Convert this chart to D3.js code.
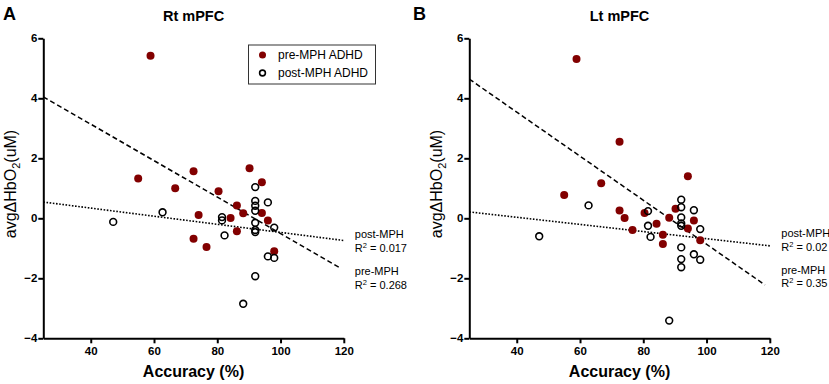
<!DOCTYPE html>
<html>
<head>
<meta charset="utf-8">
<script src="https://cdn.jsdelivr.net/npm/d3@7"></script>
<style>
  body { margin: 0; background: #fff; }
  svg { font-family: Arial, "Liberation Sans", Helvetica, sans-serif; }
  .axis path, .axis line { stroke: #000; stroke-width: 2; }
  .axis text { font-size: 11.5px; font-weight: bold; fill: #000; }
</style>
</head>
<body>
<div id="chart"></div>
<script>
const xTicks = [40, 60, 80, 100, 120];
const yTicks = [-4, -2, 0, 2, 4, 6];

// pre-MPH (filled), same accuracy for both channels
const preAccuracy = [55, 58.9, 66.7, 72.5, 72.5, 74.1, 76.6, 80.4, 84.2, 86.2, 86.2, 88.2, 90.2, 94.1, 94.1, 96, 98];
const preRt = [1.33, 5.42, 1.0, 1.57, -0.68, 0.11, -0.96, 0.9, 0.01, 0.43, -0.43, 0.17, 1.67, 1.2, 0.18, -0.07, -1.1];
const preLt = [0.78, 5.31, 1.17, 2.55, 0.26, 0.01, -0.39, 0.18, -0.18, -0.55, -0.86, 0.02, 0.32, 1.4, -0.34, -0.07, -0.73];

// post-MPH (open)
const postAccuracy = [47.1, 62.7, 81.5, 81.5, 82.3, 88.2, 92, 92, 92, 92, 92, 92, 92, 92, 96, 96, 98, 98];
const postRt = [-0.12, 0.2, 0.04, -0.07, -0.57, -2.85, 1.04, 0.58, 0.42, 0.25, -0.15, -0.39, -0.46, -1.93, 0.53, -1.27, -0.31, -1.32];
const postLt = [-0.6, 0.43, 0.24, -0.25, -0.62, -3.41, 0.62, 0.37, 0.03, -0.17, -0.25, -0.97, -1.36, -1.63, 0.27, -1.2, -0.36, -1.38];

// regression lines [intercept, slope]
const fitPreRt = [5.57, -0.0608];
const fitPostRt = [0.88, -0.0135];
const fitPreLt = [6.475, -0.0734];
const fitPostLt = [0.51, -0.0119];
const fitRangePre = [25, 118.5];
const fitRangePost = [25, 120];

const r2Rt = ['0.017', '0.268'];
const r2Lt = ['0.02', '0.35'];

const legendLabels = ['pre-MPH ADHD', 'post-MPH ADHD'];

const width = 829;
const height = 384;
const red = '#820000';

const svg = d3.select('#chart')
  .append('svg')
  .attr('width', width)
  .attr('height', height);

function drawPanel(p) {
  const x = d3.scaleLinear().domain([25, 120]).range([p.left, p.left + 300.5]);
  const y = d3.scaleLinear().domain([-4, 6]).range([338.3, 38.3]);
  const g = svg.append('g');

  // panel letter + title
  g.append('text')
    .attr('x', p.letterX).attr('y', 20)
    .attr('font-size', 18).attr('font-weight', 'bold')
    .text(p.letter);
  g.append('text')
    .attr('x', (x.range()[0] + x.range()[1]) / 2).attr('y', 21)
    .attr('text-anchor', 'middle')
    .attr('font-size', 14.5).attr('font-weight', 'bold')
    .text(p.title);

  // axes
  g.append('g')
    .attr('class', 'axis')
    .attr('transform', 'translate(0,' + y(-4) + ')')
    .call(d3.axisBottom(x).tickValues(xTicks).tickSize(5).tickSizeOuter(0).tickPadding(4));
  g.append('g')
    .attr('class', 'axis')
    .attr('transform', 'translate(' + x(25) + ',0)')
    .call(d3.axisLeft(y).tickValues(yTicks).tickSize(5).tickSizeOuter(0).tickPadding(1));

  // axis titles
  g.append('text')
    .attr('x', (x.range()[0] + x.range()[1]) / 2).attr('y', 377)
    .attr('text-anchor', 'middle')
    .attr('font-size', 16).attr('font-weight', 'bold')
    .text('Accuracy (%)');

  const yl = g.append('text')
    .attr('transform', 'translate(' + (x(25) - 27) + ',184) rotate(-90)')
    .attr('text-anchor', 'middle')
    .attr('font-size', 16);
  yl.append('tspan').text('avgΔHbO');
  yl.append('tspan').attr('font-size', 11).attr('dy', 4).text('2');
  yl.append('tspan').attr('dy', -4).text('(uM)');

  // regression lines
  const line = d3.line().x(d => x(d[0])).y(d => y(d[1]));
  function fitPts(fit, range) {
    return range.map(v => [v, fit[0] + fit[1] * v]);
  }
  g.append('path')
    .attr('d', line(fitPts(p.fitPost, fitRangePost)))
    .attr('fill', 'none').attr('stroke', '#000')
    .attr('stroke-width', 1.6).attr('stroke-dasharray', '1.6,1.6');
  g.append('path')
    .attr('d', line(fitPts(p.fitPre, fitRangePre)))
    .attr('fill', 'none').attr('stroke', '#000')
    .attr('stroke-width', 1.5).attr('stroke-dasharray', '5,3');

  // points
  g.append('g').selectAll('circle')
    .data(preAccuracy.map((a, i) => [a, p.pre[i]]))
    .enter().append('circle')
    .attr('cx', d => x(d[0])).attr('cy', d => y(d[1]))
    .attr('r', 4).attr('fill', red);
  g.append('g').selectAll('circle')
    .data(postAccuracy.map((a, i) => [a, p.post[i]]))
    .enter().append('circle')
    .attr('cx', d => x(d[0])).attr('cy', d => y(d[1]))
    .attr('r', 3.4).attr('fill', 'none')
    .attr('stroke', '#000').attr('stroke-width', 1.6);

  // fit annotations
  const ax = x.range()[1] + p.noteDx;
  const notes = [
    ['post-MPH', p.r2[0], p.noteY[0]],
    ['pre-MPH', p.r2[1], p.noteY[1]],
  ];
  notes.forEach(n => {
    g.append('text').attr('x', ax).attr('y', n[2])
      .attr('font-size', 11).text(n[0]);
    const t = g.append('text').attr('x', ax).attr('y', n[2] + 13.5)
      .attr('font-size', 11);
    t.append('tspan').text('R');
    t.append('tspan').attr('font-size', 7.5).attr('dy', -4).text('2');
    t.append('tspan').attr('dy', 4).text(' = ' + n[1]);
  });
}

drawPanel({
  left: 43.3, letter: 'A', letterX: 3, title: 'Rt mPFC',
  pre: preRt, post: postRt, fitPre: fitPreRt, fitPost: fitPostRt,
  r2: r2Rt, noteDx: 11, noteY: [238, 275],
});
drawPanel({
  left: 469.3, letter: 'B', letterX: 413, title: 'Lt mPFC',
  pre: preLt, post: postLt, fitPre: fitPreLt, fitPost: fitPostLt,
  r2: r2Lt, noteDx: 11.5, noteY: [237, 273.5],
});

// legend (panel A)
const legend = svg.append('g');
legend.append('rect')
  .attr('x', 248.5).attr('y', 45).attr('width', 127).attr('height', 39)
  .attr('fill', '#fff').attr('stroke', '#333').attr('stroke-width', 1);
legendLabels.forEach((lab, i) => {
  const ly = 55 + i * 18;
  legend.append('circle')
    .attr('cx', 262.5).attr('cy', ly).attr('r', i === 0 ? 3.5 : 2.9)
    .attr('fill', i === 0 ? red : '#fff')
    .attr('stroke', i === 0 ? 'none' : '#000').attr('stroke-width', 1.6);
  legend.append('text')
    .attr('x', 278).attr('y', ly + 4.3)
    .attr('font-size', 12).text(lab);
});
</script>
</body>
</html>
